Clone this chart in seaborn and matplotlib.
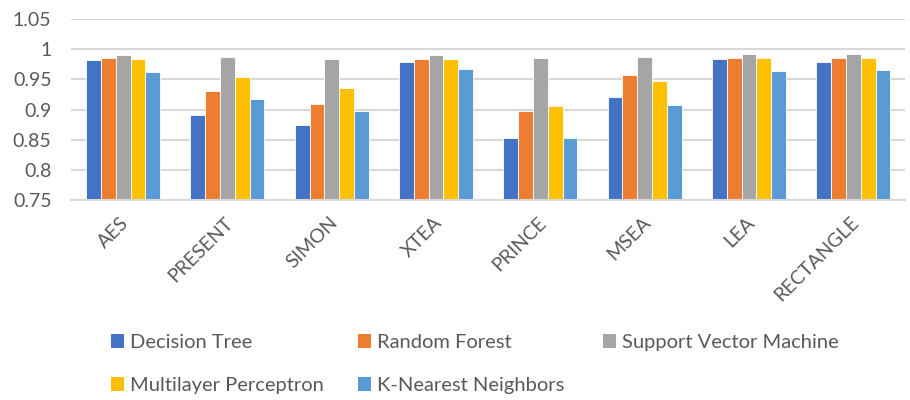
import matplotlib
matplotlib.use("Agg")
import matplotlib.pyplot as plt
from matplotlib.ticker import FuncFormatter, MultipleLocator
from matplotlib.transforms import ScaledTranslation
from matplotlib.patches import Patch
import seaborn as sns
import pandas as pd

ciphers = ["AES", "PRESENT", "SIMON", "XTEA", "PRINCE", "MSEA", "LEA", "RECTANGLE"]
models = ["Decision Tree", "Random Forest", "Support Vector Machine",
          "Multilayer Perceptron", "K-Nearest Neighbors"]

decision_tree = [0.982, 0.891, 0.875, 0.979, 0.852, 0.920, 0.983, 0.979]
random_forest = [0.986, 0.930, 0.909, 0.984, 0.897, 0.957, 0.986, 0.986]
support_vector = [0.991, 0.987, 0.984, 0.991, 0.986, 0.987, 0.992, 0.992]
multilayer_perceptron = [0.984, 0.954, 0.935, 0.984, 0.905, 0.948, 0.985, 0.985]
k_nearest = [0.962, 0.918, 0.898, 0.967, 0.853, 0.907, 0.964, 0.965]

colors = ["#4472C4", "#ED7D31", "#A5A5A5", "#FFC000", "#5B9BD5"]

series = [decision_tree, random_forest, support_vector, multilayer_perceptron, k_nearest]
df = pd.DataFrame(
    [(c, m, v) for m, vals in zip(models, series) for c, v in zip(ciphers, vals)],
    columns=["cipher", "model", "accuracy"],
)

sns.set_theme(style="white")
plt.rcParams["font.family"] = ["Lato", "DejaVu Sans"]
text_color = "#595959"
grid_color = "#D9D9D9"

fig = plt.figure(figsize=(9.1, 4.0), dpi=100)
ax = fig.add_axes([0.078, 0.5, 0.917, 0.4525])

sns.barplot(data=df, x="cipher", y="accuracy", hue="model", order=ciphers,
            hue_order=models, palette=colors, width=0.71, gap=0,
            linewidth=0.6, edgecolor="white", saturation=1, ax=ax, legend=False)

ax.set_ylim(0.75, 1.05)
ax.yaxis.set_major_locator(MultipleLocator(0.05))
ax.yaxis.set_major_formatter(FuncFormatter(lambda v, _: f"{v:g}"))
ax.grid(axis="y", color=grid_color, linewidth=1.5)
ax.set_axisbelow(True)
for side in ["left", "right", "top"]:
    ax.spines[side].set_visible(False)
ax.spines["bottom"].set_color(grid_color)
ax.spines["bottom"].set_linewidth(1.5)
ax.set_xlabel("")
ax.set_ylabel("")
ax.tick_params(axis="y", length=0, labelsize=14, colors=text_color, pad=14)
ax.tick_params(axis="x", length=0, labelsize=14, colors=text_color, pad=10)
shift = ScaledTranslation(-3 / 100, 0, fig.dpi_scale_trans)
for lbl in ax.get_xticklabels():
    lbl.set_rotation(45)
    lbl.set_ha("right")
    lbl.set_rotation_mode("anchor")
    lbl.set_transform(lbl.get_transform() + shift)

# legend laid out as three columns of evenly spaced entries
handles = [Patch(facecolor=c, edgecolor="none") for c in colors]
columns = [([0, 3], 0.122), ([1, 4], 0.393), ([2], 0.663)]
for idx, x0 in columns:
    leg = fig.legend([handles[i] for i in idx], [models[i] for i in idx],
                     loc="upper left", bbox_to_anchor=(x0, 0.165),
                     frameon=False, fontsize=14.5, labelcolor=text_color,
                     handlelength=0.65, handleheight=0.65, handletextpad=0.3,
                     labelspacing=1.3, borderaxespad=0, borderpad=0)

fig.savefig("out.png", dpi=100)
